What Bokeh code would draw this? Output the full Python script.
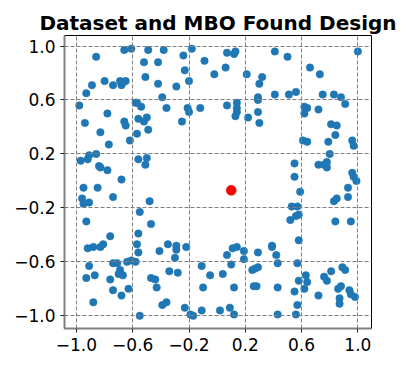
from bokeh.plotting import figure
from bokeh.models import Range1d, FixedTicker
from bokeh.embed import file_html
from bokeh.resources import INLINE

# Dataset points
data_x = [
    -0.66, -0.61, -0.49, -0.38, -0.86, -0.52, -0.42, -0.24, -0.18, -0.09, -0.23, -0.02, -0.51, -0.20,
    -0.89, -0.80, -0.74, -0.69, -0.68, -0.65, -0.67, -0.42, -0.29, -0.93, -0.39, -0.98, -0.58, -0.57,
    -0.54, -0.36, -0.21, -0.20, -0.12, -0.78, -0.94, -0.66, -0.65, -0.56, -0.52, -0.50, -0.49, -0.25,
    -0.83, -0.57, -0.62, -0.77, -0.97, -0.91, -0.92, -0.86, -0.84, -0.83, -0.78, -0.56, -0.50, -0.51, -0.68,
    0.07, 0.12, 0.13, 0.41, 0.50, 1.00, 0.06, 0.21, 0.32, 0.30, 0.66, 0.73, 0.41, 0.51, 0.56, 0.29,
    0.29, 0.75, 0.83, 0.88, 0.91, 0.07, 0.14, 0.14, 0.14, 0.13, 0.22, 0.29, 0.30, 0.62, 0.64, 0.62,
    0.72, 0.81, 0.85, 0.84, 0.79, 0.61, 0.64, 0.96, 0.97, 0.80, 0.55, 0.72, 0.76, 0.78, 0.78, 0.55, 0.96, 0.97,
    0.99, 0.59, 0.93, 0.93, 0.85, 0.83, 0.53, 0.57, 0.52, 0.56, 0.58, 0.84, 0.95, 0.58, 0.39, 0.39,
    0.42, 0.43, 0.29, 0.19, 0.19, 0.11, 0.14, 0.07, 0.10, 0.12, 0.25, 0.27, 0.29, 0.26, 0.28, 0.43,
    0.57, 0.63, 0.58, 0.64, 0.62, 0.55, 0.72, 0.76, 0.78, 0.81, 0.89, 0.91, 0.86, 0.88, 0.87, 0.87,
    0.94, 0.95, 0.98, 0.57, 0.56, 0.43, 0.09, 0.12,
    -0.95, -0.85, -0.96, -0.95, -0.91, -0.74, -0.48, -0.55, -0.93, -0.47, -0.56, -0.76, -0.57, -0.56,
    -0.92, -0.88, -0.83, -0.81, -0.41, -0.35, -0.29, -0.29, -0.22, -0.30, -0.91, -0.93, -0.87, -0.74,
    -0.71, -0.69, -0.70, -0.67, -0.64, -0.61, -0.58, -0.76, -0.74, -0.68, -0.63, -0.47, -0.44, -0.43,
    -0.34, -0.28, -0.88, -0.39, -0.36, -0.55, -0.23, -0.19, -0.17, -0.11, -0.11, -0.05, -0.10, 0.02, 0.04,
]
data_y = [
    0.97, 0.98, 0.97, 0.97, 0.92, 0.88, 0.88, 0.93, 0.98, 0.89, 0.82, 0.79, 0.77, 0.74,
    0.71, 0.74, 0.71, 0.74, 0.71, 0.74, 0.73, 0.72, 0.70, 0.65, 0.62, 0.56, 0.58, 0.58,
    0.55, 0.54, 0.54, 0.51, 0.54, 0.50, 0.43, 0.44, 0.41, 0.46, 0.44, 0.47, 0.38, 0.44,
    0.36, 0.35, 0.30, 0.27, 0.15, 0.19, 0.16, 0.20, 0.11, 0.10, 0.08, 0.16, 0.17, 0.12, 0.01,
    0.95, 0.94, 0.96, 0.96, 0.92, 0.96, 0.84, 0.79, 0.77, 0.72, 0.84, 0.79, 0.64, 0.64, 0.66, 0.62,
    0.60, 0.64, 0.64, 0.62, 0.57, 0.56, 0.58, 0.54, 0.51, 0.48, 0.47, 0.51, 0.43, 0.55, 0.54, 0.50,
    0.53, 0.42, 0.41, 0.34, 0.29, 0.30, 0.29, 0.30, 0.26, 0.20, 0.13, 0.12, 0.12, 0.10, 0.14, 0.03, 0.06, 0.03,
    0.00, -0.08, -0.05, -0.12, -0.13, -0.15, -0.19, -0.19, -0.29, -0.26, -0.25, -0.30, -0.30, -0.44, -0.48, -0.49,
    -0.55, -0.61, -0.53, -0.52, -0.58, -0.50, -0.49, -0.55, -0.62, -0.79, -0.66, -0.65, -0.64, -0.78, -0.78, -0.79,
    -0.61, -0.70, -0.74, -0.75, -0.80, -0.82, -0.85, -0.71, -0.74, -0.67, -0.64, -0.66, -0.80, -0.78, -0.87, -0.91,
    -0.81, -0.84, -0.86, -0.92, -0.99, -0.99, -0.94, -0.99,
    -0.05, -0.05, -0.13, -0.17, -0.16, -0.12, -0.15, -0.23, -0.30, -0.32, -0.39, -0.41, -0.47, -0.53,
    -0.50, -0.49, -0.49, -0.47, -0.52, -0.47, -0.48, -0.51, -0.49, -0.57, -0.63, -0.72, -0.70, -0.61,
    -0.61, -0.66, -0.69, -0.70, -0.60, -0.59, -0.60, -0.73, -0.81, -0.85, -0.80, -0.72, -0.73, -0.79,
    -0.67, -0.68, -0.90, -0.92, -0.90, -1.00, -0.94, -0.99, -1.00, -0.96, -0.63, -0.70, -0.79, -0.96, -0.69,
]

# MBO found design
mbo_x = [0.10]
mbo_y = [-0.07]

tick_values = [-1.0, -0.6, -0.2, 0.2, 0.6, 1.0]
tick_labels = ["\u22121.0", "\u22120.6", "\u22120.2", "0.2", "0.6", "1.0"]

p = figure(
    width=405, height=364,
    output_backend="svg", toolbar_location=None,
    x_range=Range1d(-1.085, 1.097), y_range=Range1d(-1.094, 1.078),
    title="Dataset and MBO Found Design",
    min_border_left=64, min_border_right=34, min_border_top=35, min_border_bottom=36,
)
p.background_fill_color = "white"
p.border_fill_color = "white"
p.outline_line_color = "black"
p.outline_line_width = 1

p.title.text_font = "DejaVu Sans"
p.title.text_font_style = "bold"
p.title.text_font_size = "20px"
p.title.align = "center"
p.title.text_color = "black"
p.title.standoff = 2

labels = dict(zip(tick_values, tick_labels))
for ax in (p.xaxis[0], p.yaxis[0]):
    ax.ticker = FixedTicker(ticks=tick_values)
    ax.major_label_overrides = labels
    ax.major_label_text_font = "DejaVu Sans"
    ax.major_label_text_font_size = "17px"
    ax.major_label_text_color = "black"
    ax.axis_line_color = "#808080"
    ax.axis_line_width = 2
    ax.major_tick_in = 0
    ax.major_tick_out = 4
    ax.major_tick_line_color = "#222222"
    ax.minor_tick_line_color = None
    ax.major_label_standoff = 5

for g in (p.xgrid[0], p.ygrid[0]):
    g.ticker = FixedTicker(ticks=tick_values)
    g.grid_line_color = "#7f7f7f"
    g.grid_line_dash = "4 2"
    g.grid_line_width = 1
    g.level = "overlay"

p.scatter(data_x, data_y, size=7.5, fill_color="#1f77b4", line_color="#1f77b4", line_width=0.5)
p.scatter(mbo_x, mbo_y, size=10, fill_color="#ff0000", line_color="#ff0000", line_width=0.5)

open("out.html", "w").write(file_html(p, INLINE))
